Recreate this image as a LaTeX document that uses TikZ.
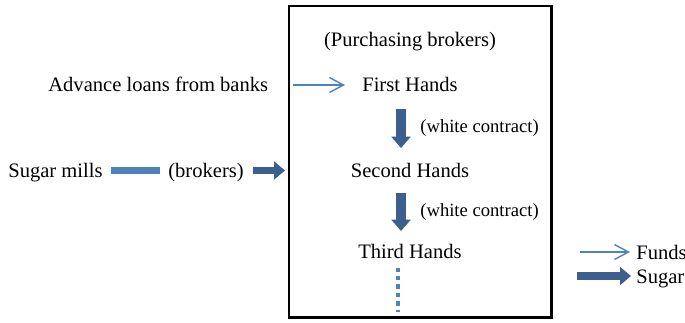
\documentclass[tikz,border=0pt]{standalone}
\usepackage{fontspec}
\setmainfont{Liberation Serif}
\usetikzlibrary{arrows.meta}

\definecolor{fundblue}{HTML}{4F81BD}
\definecolor{sugarblue}{HTML}{3C5F8F}

\tikzset{
  lbl/.style={font=\fontsize{11.7}{14}\selectfont, inner sep=0pt, anchor=base},
  small/.style={font=\fontsize{10.6}{13}\selectfont},
  fundarrow/.style={fundblue, line width=0.8pt, -{Straight Barb[length=8pt,width=8.5pt]}},
  sugararrow/.style={sugarblue, line width=4.4pt, -{Triangle[length=6.2pt,width=10pt]}},
  handarrow/.style={sugarblue, line width=6pt, -{Triangle[length=6.5pt,width=10.8pt]}}
}

\begin{document}
\begin{tikzpicture}[x=0.02cm,y=-0.02cm]
\useasboundingbox (0,0) rectangle (685,322);

% the brokers' box
\draw[line width=1.7pt] (289,6) rectangle (551,317);

\node[lbl] (purch) at (410,46) {(Purchasing brokers)};
\node[lbl] (first) at (410,91) {First Hands};
\node[lbl] (second) at (410,177) {Second Hands};
\node[lbl] (third) at (410,258) {Third Hands};
\node[lbl,small,anchor=base west] (wc1) at (420,132) {(white contract)};
\node[lbl,small,anchor=base west] (wc2) at (420,216) {(white contract)};

% outside the box
\node[lbl,anchor=base west] (loans) at (48,91) {Advance loans from banks};
\node[lbl,anchor=base west] (mills) at (8,177) {Sugar mills};
\node[lbl,anchor=base west] (brokers) at (168,177) {(brokers)};

% legend
\node[lbl,anchor=base west] (funds) at (636,259) {Funds};
\node[lbl,anchor=base west] (sugar) at (636,283) {Sugar};

\coordinate (loanin) at (293,85);
\coordinate (loanout) at (345,85);
\coordinate (h1a) at (401,109);
\coordinate (h1b) at (401,148);
\coordinate (h2a) at (401,193);
\coordinate (h2b) at (401,231);
\coordinate (more) at (398,312);
\coordinate (bara) at (111,170.5);
\coordinate (barb) at (160,170.5);
\coordinate (sella) at (253,170.5);
\coordinate (sellb) at (285,170.5);
\coordinate (fa) at (580,252);
\coordinate (fb) at (630,252);
\coordinate (sa) at (577,276);
\coordinate (sb) at (631,276);

\draw[fundarrow] (loanin) -- (loanout);
\draw[handarrow] (h1a) -- (h1b);
\draw[handarrow] (h2a) -- (h2b);
\draw[fundblue, line width=2.4pt, dash pattern=on 2.4pt off 2.4pt]
  (third.south -| more) ++(0,9) -- (more);
\draw[fundblue, line width=4.4pt] (bara) -- (barb);
\draw[sugararrow] (sella) -- (sellb);
\draw[fundarrow] (fa) -- (fb);
\draw[sugararrow] (sa) -- (sb);
\end{tikzpicture}
\end{document}
